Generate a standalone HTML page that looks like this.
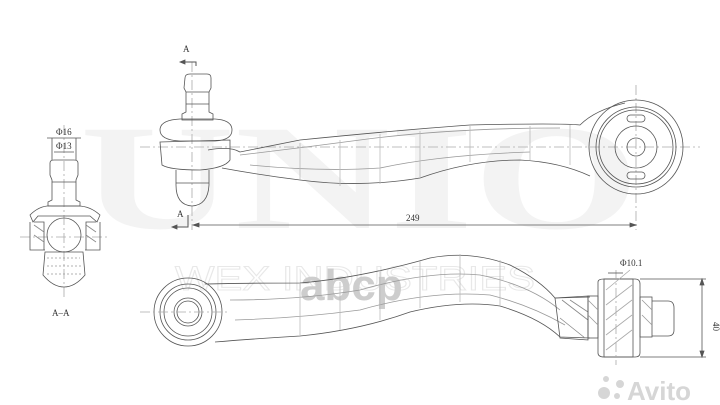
<!DOCTYPE html>
<html><head><meta charset="utf-8"><style>
html,body{margin:0;padding:0;background:#fff;}
svg{display:block;}
.s{font-family:"Liberation Serif",serif;}
.a{font-family:"Liberation Sans",sans-serif;}
</style></head><body>
<svg width="720" height="405" viewBox="0 0 720 405" xmlns="http://www.w3.org/2000/svg">
<rect width="720" height="405" fill="#fff"/>
<text class="s" x="80" y="228" font-size="150" font-weight="bold" fill="#f3f3f3" textLength="560" lengthAdjust="spacingAndGlyphs">UNIO</text>
<text class="a" x="175" y="290" font-size="34" fill="none" stroke="#e8e8e8" stroke-width="1" textLength="360" lengthAdjust="spacingAndGlyphs">WEX INDUSTRIES</text>
<text class="a" x="300" y="300" font-size="44" fill="#cdcdcd" font-weight="bold">abcp</text>
<g fill="#d6d6d6">
<circle cx="604" cy="393" r="6"/><circle cx="620" cy="384" r="4"/><circle cx="617" cy="396" r="3"/><circle cx="606" cy="379" r="3"/>
<text class="a" x="627" y="400" font-size="26" font-weight="bold">Avito</text>
</g>
<g fill="none" stroke="#555" stroke-width="0.8">
<line x1="140" y1="147" x2="700" y2="147" stroke="#aaa" stroke-dasharray="10,3,2,3"/>
<line x1="636" y1="85" x2="636" y2="230" stroke="#aaa" stroke-dasharray="10,3,2,3"/>
<line x1="192" y1="62" x2="192" y2="230" stroke="#aaa" stroke-dasharray="10,3,2,3"/>
<path d="M185 78 Q185 74 190 74 L207 74 Q211 74 211 78 L211 88 L209 92 L209 112 L213 114 L213 120 L182 120 L182 114 L186 112 L186 92 L184 88 Z"/>
<line x1="186" y1="92" x2="209" y2="92"/><line x1="186" y1="104" x2="209" y2="104"/>
<path d="M160 130 Q160 120 180 119 L215 119 Q232 120 232 130 Q232 140 215 141 L180 141 Q160 140 160 130 Z"/>
<path d="M160 142 L230 140 L230 160 Q225 168 200 170 Q170 170 162 165 Z"/>
<path d="M176 170 L176 185 Q176 205 192 206 Q208 205 209 185 L209 170"/>
<line x1="176" y1="183" x2="209" y2="183"/>
<path d="M208 150 Q230 146 240 152 L300 140 Q400 130 470 125 Q560 123 580 125 Q595 110 625 103"/>
<path d="M222 168 Q260 175 300 180 Q360 188 420 178 Q470 160 520 160 Q560 162 590 176"/>
<path d="M240 155 Q300 148 360 140 Q450 128 560 128" stroke="#999"/>
<path d="M250 165 Q320 172 380 168 Q440 155 530 152" stroke="#999"/>
<path d="M300 143 L300 180 M340 140 L340 186 M380 134 L380 184 M420 131 L420 178 M470 126 L470 162 M530 126 L530 160 M570 125 L570 165" stroke="#bbb"/>
<circle cx="636" cy="147" r="47"/>
<circle cx="636" cy="147" r="40"/>
<circle cx="636" cy="147" r="37"/>
<circle cx="636" cy="147" r="21"/>
<circle cx="636" cy="147" r="9"/>
<rect x="627" y="115" width="18" height="7" rx="3.5"/>
<rect x="627" y="172" width="18" height="7" rx="3.5"/>
<path d="M180 62 L196 62 L196 66" stroke-width="1"/>
<path d="M180 62 l5 -2 l0 4 z" fill="#555"/>
<path d="M172 227 L188 227 L188 215" stroke-width="1"/>
<path d="M172 227 l5 -2 l0 4 z" fill="#555"/>
<line x1="193" y1="225" x2="636" y2="225"/>
<path d="M636 225 l-6 -2 l0 4 z" fill="#555"/>
<path d="M193 225 l6 -2 l0 4 z" fill="#555"/>
<line x1="64" y1="125" x2="64" y2="300" stroke="#aaa" stroke-dasharray="10,3,2,3"/>
<line x1="20" y1="237" x2="110" y2="237" stroke="#aaa" stroke-dasharray="10,3,2,3"/>
<path d="M50 163 Q50 160 54 160 L74 160 Q78 160 78 163 L78 175 L76 180 L76 200 L80 202 L80 206 L48 206 L48 202 L52 200 L52 180 L50 175 Z"/>
<line x1="52" y1="182" x2="76" y2="182"/>
<path d="M30 215 Q40 205 52 206 L78 206 Q90 206 100 215 L97 222 L90 216 L38 216 L33 222 Z"/>
<path d="M30 222 L30 250 L45 250 M100 222 L100 250 L85 250"/>
<path d="M34 222 L44 222 L44 250 M96 222 L86 222 L86 250"/>
<path d="M34 225 L44 232 M34 235 L44 242 M86 225 L96 232 M86 235 L96 242" stroke="#888"/>
<circle cx="64" cy="235" r="17"/>
<path d="M45 252 L83 252 L85 275 Q75 287 64 287 Q53 287 43 275 Z"/>
<path d="M47 258 L80 258 M47 266 L82 266 M47 274 L82 274" stroke="#999" stroke-dasharray="2,2"/>
<line x1="52" y1="138" x2="52" y2="160"/><line x1="76" y1="138" x2="76" y2="160"/>
<line x1="47" y1="138" x2="81" y2="138"/>
<line x1="54" y1="152" x2="74" y2="152"/>
<circle cx="188" cy="312" r="34"/>
<circle cx="188" cy="312" r="28"/>
<circle cx="188" cy="312" r="24"/>
<circle cx="188" cy="312" r="14"/>
<circle cx="188" cy="312" r="11"/>
<line x1="140" y1="312" x2="230" y2="312" stroke="#aaa" stroke-dasharray="10,3,2,3"/>
<path d="M205 284 Q240 283 300 283 Q360 278 430 258 Q470 250 510 265 Q540 280 555 298 L590 297"/>
<path d="M215 342 Q250 339 300 336 Q360 330 410 312 Q460 300 500 306 Q540 318 560 337 L590 338"/>
<path d="M230 300 Q300 300 360 290 Q430 270 480 275 Q530 285 560 310" stroke="#999"/>
<path d="M235 320 Q300 318 360 310 Q430 290 490 295 Q530 305 565 325" stroke="#999"/>
<path d="M300 283 L300 336 M340 282 L340 330 M380 270 L380 320 M420 261 L420 308 M460 254 L460 302 M500 260 L500 305" stroke="#bbb"/>
<path d="M555 298 L588 296 L588 340 L560 338 Z"/>
<path d="M562 300 L588 320 M570 300 L588 312 M560 318 L585 338" stroke="#888"/>
<rect x="588" y="296" width="10" height="42"/>
<path d="M598 282 Q598 279 604 279 L635 279 Q640 279 640 284 L640 353 Q640 357 635 357 L604 357 Q598 357 598 353 Z"/>
<rect x="604" y="279" width="29" height="78"/>
<line x1="616" y1="270" x2="616" y2="365" stroke="#aaa" stroke-dasharray="10,3,2,3"/>
<rect x="640" y="297" width="12" height="40"/>
<path d="M652 301 L668 301 Q674 301 674 308 L674 330 Q674 336 668 336 L652 336"/>
<path d="M606 290 L630 270 M606 305 L632 285 M606 320 L632 300 M606 335 L632 315 M606 350 L632 330" stroke="#aaa"/>
<path d="M588 300 L598 310 M588 315 L598 325 M642 300 L652 310 M642 315 L652 325" stroke="#999"/>
<line x1="608" y1="273" x2="623" y2="273"/>
<line x1="640" y1="279" x2="706" y2="279"/><line x1="640" y1="357" x2="706" y2="357"/>
<line x1="702" y1="279" x2="702" y2="357"/>
<path d="M702 279 l-2 6 l4 0 z M702 357 l-2 -6 l4 0 z" fill="#555"/>
</g>
<g fill="#333" font-size="9" class="s">
<text x="183" y="52">A</text>
<text x="177" y="217">A</text>
<text x="406" y="221">249</text>
<text x="56" y="135">Φ16</text>
<text x="56" y="149">Φ13</text>
<text x="52" y="316">A–A</text>
<text x="620" y="266">Φ10.1</text>
<text x="713" y="322" transform="rotate(90 713 322)">40</text>
</g>
</svg>
</body></html>
